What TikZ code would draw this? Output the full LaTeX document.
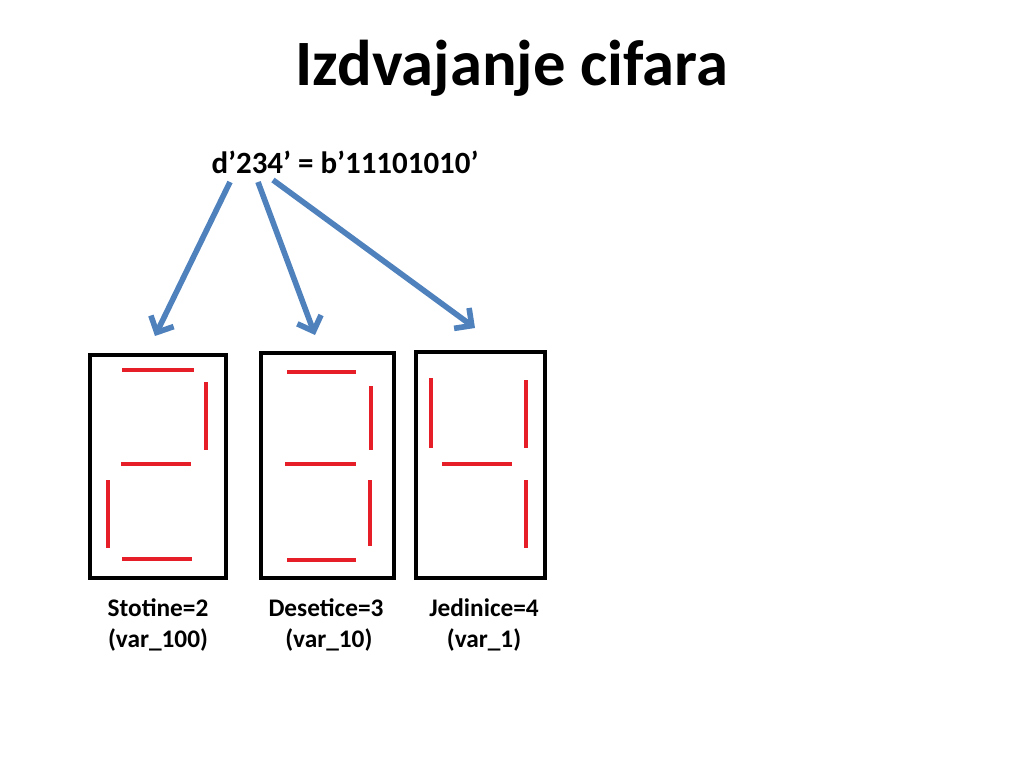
\documentclass[tikz,border=0pt]{standalone}
\usepackage{fontspec}
\setmainfont{Carlito}
\usetikzlibrary{arrows.meta}
\definecolor{segred}{RGB}{230,30,40}
\definecolor{arrowblue}{RGB}{79,129,189}
\tikzset{
  digitbox/.style={draw=black, line width=2.8pt},
  seg/.style={draw=segred, line width=2.6pt},
  pointer/.style={draw=arrowblue, line width=4pt, -{Straight Barb[length=9pt,width=18pt]}},
  caption/.style={font=\bfseries\fontsize{18}{22}\selectfont, align=center}
}
\begin{document}
\begin{tikzpicture}[x=0.025cm, y=-0.025cm]
                \useasboundingbox (0, 0) rectangle (1024, 768);
                % Naslov
                \node (title) at (512, 68) {\bfseries\fontsize{46}{50}\selectfont Izdvajanje cifara};
                \node (number) at (345, 162) {\bfseries\fontsize{22}{26}\selectfont d’234’ = b’11101010’};
                % Strelice
                \coordinate (from100) at (230, 182);
                \coordinate (from10) at (258, 182);
                \coordinate (from1) at (273, 180);
                \coordinate (to100) at (155, 336);
                \coordinate (to10) at (315, 335);
                \coordinate (to1) at (475, 328);
                \draw [pointer] (from100) -- (to100);
                \draw [pointer] (from10) -- (to10);
                \draw [pointer] (from1) -- (to1);
                % Stotine
                \draw [digitbox] (90, 355) rectangle (226, 578);
                \draw [seg] (122, 370) -- (194, 370);
                \draw [seg] (206, 382) -- (206, 450);
                \draw [seg] (121, 464) -- (191, 464);
                \draw [seg] (108, 480) -- (108, 548);
                \draw [seg] (122, 559) -- (192, 559);
                % Desetice
                \draw [digitbox] (261, 353) rectangle (394, 578);
                \draw [seg] (287, 372) -- (356, 372);
                \draw [seg] (371, 386) -- (371, 450);
                \draw [seg] (285, 464) -- (356, 464);
                \draw [seg] (370, 480) -- (370, 546);
                \draw [seg] (287, 560) -- (356, 560);
                % Jedinice
                \draw [digitbox] (416, 352) rectangle (545, 578);
                \draw [seg] (431, 378) -- (431, 448);
                \draw [seg] (526, 380) -- (526, 448);
                \draw [seg] (442, 464) -- (512, 464);
                \draw [seg] (526, 480) -- (526, 548);
                % Oznake
                \node [caption] (lab100) at (158, 625) {Stotine=2\\(var\_100)};
                \node [caption] (lab10) at (326, 625) {Desetice=3\\\ (var\_10)};
                \node [caption] (lab1) at (484, 625) {Jedinice=4\\(var\_1)};
            \end{tikzpicture}
\end{document}
